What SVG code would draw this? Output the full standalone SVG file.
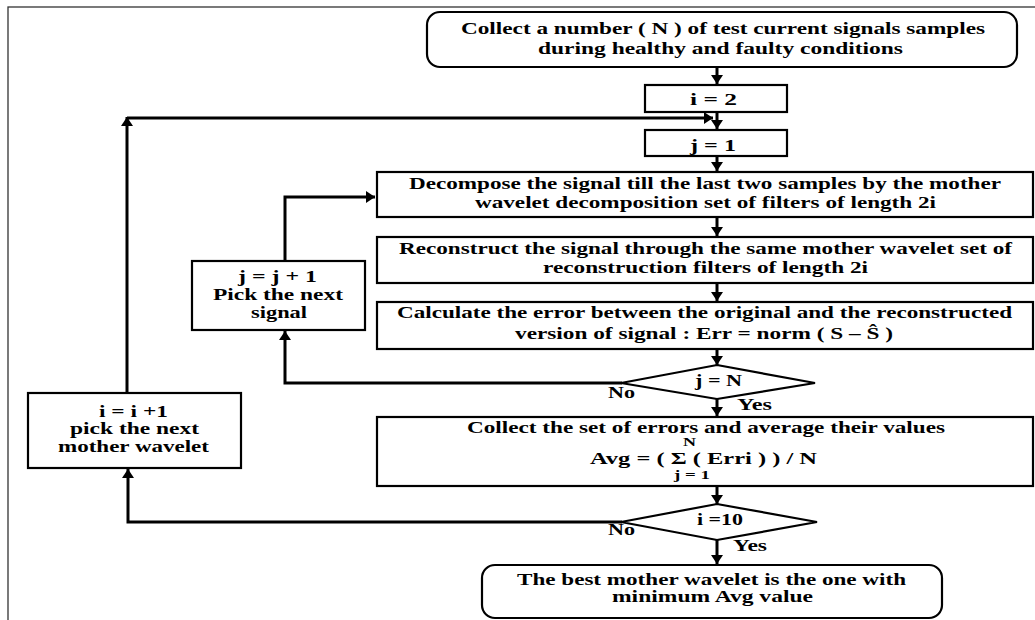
<svg xmlns="http://www.w3.org/2000/svg" width="1035" height="620" viewBox="0 0 1035 620">
  <style>
    .box { fill: #fff; stroke: #000; stroke-width: 2.2; }
    .frame { fill: none; stroke: #333; stroke-width: 1.3; }
    .wire { fill: none; stroke: #000; stroke-width: 3; }
    text { font-family: "Liberation Serif", "Times New Roman", serif; font-weight: bold; font-size: 16px; fill: #000; }
    .small { font-size: 13px; }
  </style>
  <defs>
    <marker id="arrow" markerUnits="userSpaceOnUse" markerWidth="10" markerHeight="12" refX="9" refY="6" orient="auto">
      <path d="M0,0 L9,6 L0,12 z" fill="#000"/>
    </marker>
  </defs>

  <rect class="frame" x="8" y="7" width="1040" height="630"/>

  <!-- connectors -->
  <g id="connectors">
    <path class="wire" d="M717,67 V84" marker-end="url(#arrow)"/>
    <path class="wire" d="M717,112 V129" marker-end="url(#arrow)"/>
    <path class="wire" d="M127,393 V117" marker-end="url(#arrow)"/>
    <path class="wire" d="M127,118 H713" marker-end="url(#arrow)"/>
    <path class="wire" d="M717,156 V171" marker-end="url(#arrow)"/>
    <path class="wire" d="M717,217 V236" marker-end="url(#arrow)"/>
    <path class="wire" d="M717,283 V301" marker-end="url(#arrow)"/>
    <path class="wire" d="M717,349 V365" marker-end="url(#arrow)"/>
    <path class="wire" d="M622,383 H285 V331" marker-end="url(#arrow)"/>
    <path class="wire" d="M285,261 V197 H375" marker-end="url(#arrow)"/>
    <path class="wire" d="M717,399 V416" marker-end="url(#arrow)"/>
    <path class="wire" d="M717,486 V504" marker-end="url(#arrow)"/>
    <path class="wire" d="M622,522 H128 V469" marker-end="url(#arrow)"/>
    <path class="wire" d="M717,540 V564" marker-end="url(#arrow)"/>
    <text x="608" y="398" textLength="27" lengthAdjust="spacingAndGlyphs">No</text>
    <text x="737" y="410" textLength="35" lengthAdjust="spacingAndGlyphs">Yes</text>
    <text x="608" y="535" textLength="27" lengthAdjust="spacingAndGlyphs">No</text>
    <text x="733" y="551" textLength="34" lengthAdjust="spacingAndGlyphs">Yes</text>
  </g>

  <g id="collect">
    <rect class="box" x="427" y="12" width="590" height="55" rx="13"/>
    <text x="461" y="34" textLength="524" lengthAdjust="spacingAndGlyphs">Collect a number ( N ) of test current signals samples</text>
    <text x="538" y="54" textLength="365" lengthAdjust="spacingAndGlyphs">during healthy and faulty conditions</text>
  </g>

  <g id="init-i">
    <rect class="box" x="645" y="85" width="142" height="27"/>
    <text x="690" y="105" textLength="47" lengthAdjust="spacingAndGlyphs">i = 2</text>
  </g>

  <g id="init-j">
    <rect class="box" x="645" y="130" width="142" height="26"/>
    <text x="690" y="151" textLength="46" lengthAdjust="spacingAndGlyphs">j = 1</text>
  </g>

  <g id="decompose">
    <rect class="box" x="377" y="172" width="656" height="45"/>
    <text x="409" y="189" textLength="592" lengthAdjust="spacingAndGlyphs">Decompose the signal till the last two samples by the mother</text>
    <text x="475" y="208" textLength="461" lengthAdjust="spacingAndGlyphs">wavelet decomposition set of filters of length 2i</text>
  </g>

  <g id="reconstruct">
    <rect class="box" x="377" y="237" width="656" height="46"/>
    <text x="399" y="254" textLength="613" lengthAdjust="spacingAndGlyphs">Reconstruct the signal through the same mother wavelet set of</text>
    <text x="543" y="273" textLength="325" lengthAdjust="spacingAndGlyphs">reconstruction filters of length 2i</text>
  </g>

  <g id="error">
    <rect class="box" x="377" y="302" width="656" height="47"/>
    <text x="397" y="318" textLength="615" lengthAdjust="spacingAndGlyphs">Calculate the error between the original and the reconstructed</text>
    <text x="515" y="339" textLength="378" lengthAdjust="spacingAndGlyphs">version of signal : Err = norm ( S – Ŝ )</text>
  </g>

  <g id="check-j">
    <polygon class="box" points="717,365 815,383 717,399 621,383"/>
    <text x="695" y="386" textLength="47" lengthAdjust="spacingAndGlyphs">j = N</text>
  </g>

  <g id="average">
    <rect class="box" x="377" y="417" width="656" height="69"/>
    <!-- heading and summation formula share one text run -->
    <text><tspan x="467" y="433" textLength="478" lengthAdjust="spacingAndGlyphs">Collect the set of errors and average their values</tspan><tspan class="small" x="683" y="446" textLength="13" lengthAdjust="spacingAndGlyphs">N</tspan><tspan x="590" y="464" textLength="227" lengthAdjust="spacingAndGlyphs">Avg = ( Σ ( Erri ) ) / N</tspan><tspan class="small" x="674" y="479" textLength="36" lengthAdjust="spacingAndGlyphs">j = 1</tspan></text>
  </g>

  <g id="check-i">
    <polygon class="box" points="717,504 817,522 717,540 621,522"/>
    <text x="697" y="525" textLength="46" lengthAdjust="spacingAndGlyphs">i =10</text>
  </g>

  <g id="result">
    <rect class="box" x="482" y="565" width="460" height="53" rx="13"/>
    <text x="517" y="585" textLength="389" lengthAdjust="spacingAndGlyphs">The best mother wavelet is the one with</text>
    <text x="612" y="602" textLength="201" lengthAdjust="spacingAndGlyphs">minimum Avg value</text>
  </g>

  <g id="next-signal">
    <rect class="box" x="192" y="261" width="173" height="69"/>
    <text x="238" y="282" textLength="79" lengthAdjust="spacingAndGlyphs">j = j + 1</text>
    <text x="213" y="300" textLength="130" lengthAdjust="spacingAndGlyphs">Pick the next</text>
    <text x="251" y="318" textLength="56" lengthAdjust="spacingAndGlyphs">signal</text>
  </g>

  <g id="next-wavelet">
    <rect class="box" x="28" y="393" width="213" height="75"/>
    <text x="99" y="417" textLength="69" lengthAdjust="spacingAndGlyphs">i = i +1</text>
    <text x="70" y="434" textLength="129" lengthAdjust="spacingAndGlyphs">pick the next</text>
    <text x="58" y="452" textLength="151" lengthAdjust="spacingAndGlyphs">mother wavelet</text>
  </g>
</svg>
